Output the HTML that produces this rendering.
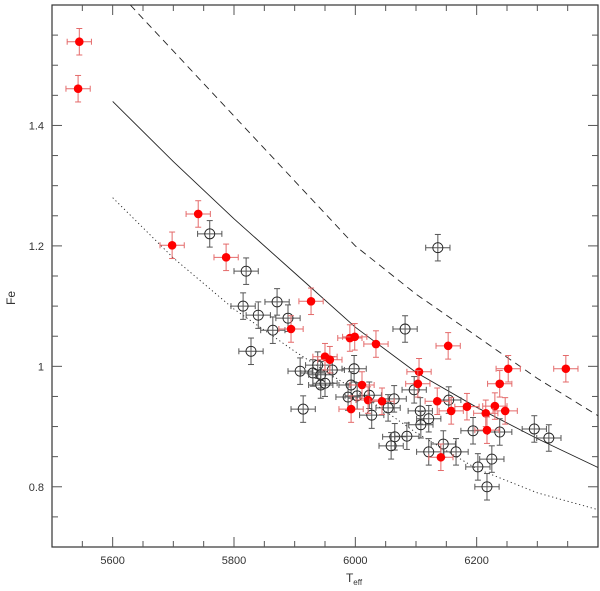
<!DOCTYPE html>
<html><head><meta charset="utf-8"><style>
html,body{margin:0;padding:0;background:#fff;}
svg{display:block;font-family:"Liberation Sans",sans-serif;}
</style></head><body>
<svg id="chart" width="600" height="591" viewBox="0 0 600 591" xmlns="http://www.w3.org/2000/svg">
<g id="grid"></g>
<g id="curves"></g>
<g id="points"></g>
<text x="354" y="582" font-size="12" text-anchor="middle" fill="#333">T<tspan font-size="8" dy="3">eff</tspan></text>
<text x="0" y="0" font-size="12" text-anchor="middle" fill="#333" transform="translate(15,298) rotate(-90)">Fe</text>
</svg>
<script>
const redT=[5545,5543,5698,5741,5787,5927,5894,5991,5999,6034,6153,5950,5958,6105,6103,6011,6021,6044,5993,6135,6158,6184,6141,6252,6238,6347,6230,6247,6215,6217];
const redFe=[1.539,1.461,1.201,1.253,1.181,1.108,1.062,1.047,1.049,1.037,1.034,1.016,1.011,0.991,0.971,0.969,0.944,0.942,0.929,0.942,0.926,0.933,0.849,0.996,0.971,0.996,0.934,0.926,0.922,0.894];
const blkT=[5760,5820,5871,5815,5840,5889,5864,5828,5909,5930,5938,5943,6136,6082,5998,5962,5943,5950,5993,6097,5988,6003,6023,6064,6054,6027,6107,6121,6108,5914,6065,6085,6059,6145,6121,6166,6194,6202,6154,6238,6295,6319,6225,6217];
const blkFe=[1.220,1.158,1.107,1.100,1.085,1.080,1.060,1.025,0.992,0.989,1.002,0.969,1.197,1.062,0.996,0.994,0.986,0.972,0.969,0.961,0.949,0.951,0.952,0.946,0.931,0.919,0.926,0.913,0.903,0.929,0.883,0.884,0.868,0.871,0.858,0.858,0.893,0.833,0.944,0.891,0.896,0.881,0.846,0.800];
const solidT=[5600,5700,5800,5900,6000,6100,6200,6300,6400];
const solidFe=[1.44,1.34,1.245,1.155,1.065,0.99,0.932,0.88,0.832];
const dashT=[5629,6000,6100,6200,6300,6400];
const dashFe=[1.6,1.2,1.12,1.05,0.98,0.918];
const dotT=[5600,5700,5800,5900,6000,6100,6200,6300,6400];
const dotFe=[1.28,1.18,1.095,1.025,0.96,0.89,0.83,0.79,0.762];
const xTicks=[5600,5800,6000,6200];
const yTicks=[0.8,1,1.2,1.4];
const xErr=20, yErr=0.022;

const L=52,R=598,T=5,B=547,X0=5500,X1=6400,Y0=0.7,Y1=1.6;
const sx=v=>L+(v-X0)/(X1-X0)*(R-L);
const sy=v=>B-(v-Y0)/(Y1-Y0)*(B-T);
const NS="http://www.w3.org/2000/svg";
function mk(tag,attrs,parent){const e=document.createElementNS(NS,tag);for(const k in attrs)e.setAttribute(k,attrs[k]);parent.appendChild(e);return e;}
const g=document.getElementById('grid');
let fr=mk('rect',{x:L,y:T,width:R-L,height:B-T,fill:'none',stroke:'#333','stroke-width':1.2},g);


for(let v=5550;v<6400;v+=50){const maj=(v%200===0);const len=maj?10:6;const x=sx(v);
 mk('line',{x1:x,y1:B,x2:x,y2:B-len,stroke:'#555'},g);mk('line',{x1:x,y1:T,x2:x,y2:T+len,stroke:'#555'},g);}
for(let i=1;i<18;i++){const v=0.7+i*0.05;const maj=(Math.abs((v*10)%2)<0.01||Math.abs((v*10)%2-2)<0.01);const len=maj?10:6;const y=sy(v);
 mk('line',{x1:L,y1:y,x2:L+len,y2:y,stroke:'#555'},g);mk('line',{x1:R,y1:y,x2:R-len,y2:y,stroke:'#555'},g);}
xTicks.forEach(v=>{const t=mk('text',{x:sx(v),y:564,'font-size':11,'text-anchor':'middle',fill:'#333'},g);t.textContent=v;
 
 });
yTicks.forEach(v=>{const t=mk('text',{x:44,y:sy(v)+4,'font-size':11,'text-anchor':'end',fill:'#333'},g);t.textContent=String(v);
 
 });
const c=document.getElementById('curves');
function curve(ts,fs,dash,name){const d=ts.map((t,i)=>(i?'L':'M')+sx(t).toFixed(1)+','+sy(fs[i]).toFixed(1)).join('');
 const p=mk('path',{d:d,fill:'none',stroke:'#222','stroke-width':0.9},c);if(dash)p.setAttribute('stroke-dasharray',dash);
 
 }
curve(solidT,solidFe,null,'solid-model-line');
curve(dashT,dashFe,'7,5','dashed-model-line');
curve(dotT,dotFe,'1.2,2.8','dotted-model-line');
const pg=document.getElementById('points');
function errbar(x,y,col){const x1=sx(x-xErr),x2=sx(x+xErr),y1=sy(y+yErr),y2=sy(y-yErr),cx=sx(x),cy=sy(y);
 mk('line',{x1:x1,y1:cy,x2:x2,y2:cy,stroke:col},pg);mk('line',{x1:cx,y1:y1,x2:cx,y2:y2,stroke:col},pg);
 mk('line',{x1:x1,y1:cy-3,x2:x1,y2:cy+3,stroke:col},pg);mk('line',{x1:x2,y1:cy-3,x2:x2,y2:cy+3,stroke:col},pg);
 mk('line',{x1:cx-3,y1:y1,x2:cx+3,y2:y1,stroke:col},pg);mk('line',{x1:cx-3,y1:y2,x2:cx+3,y2:y2,stroke:col},pg);}
blkT.forEach((t,i)=>{errbar(t,blkFe[i],'#555');
 const p=mk('circle',{cx:sx(t),cy:sy(blkFe[i]),r:5,fill:'none',stroke:'#222','stroke-width':0.9},pg);
 
 });
redT.forEach((t,i)=>{errbar(t,redFe[i],'#e46a6a');
 const p=mk('circle',{cx:sx(t),cy:sy(redFe[i]),r:4.3,fill:'#ff0000'},pg);
 
 });
</script>
</body></html>
